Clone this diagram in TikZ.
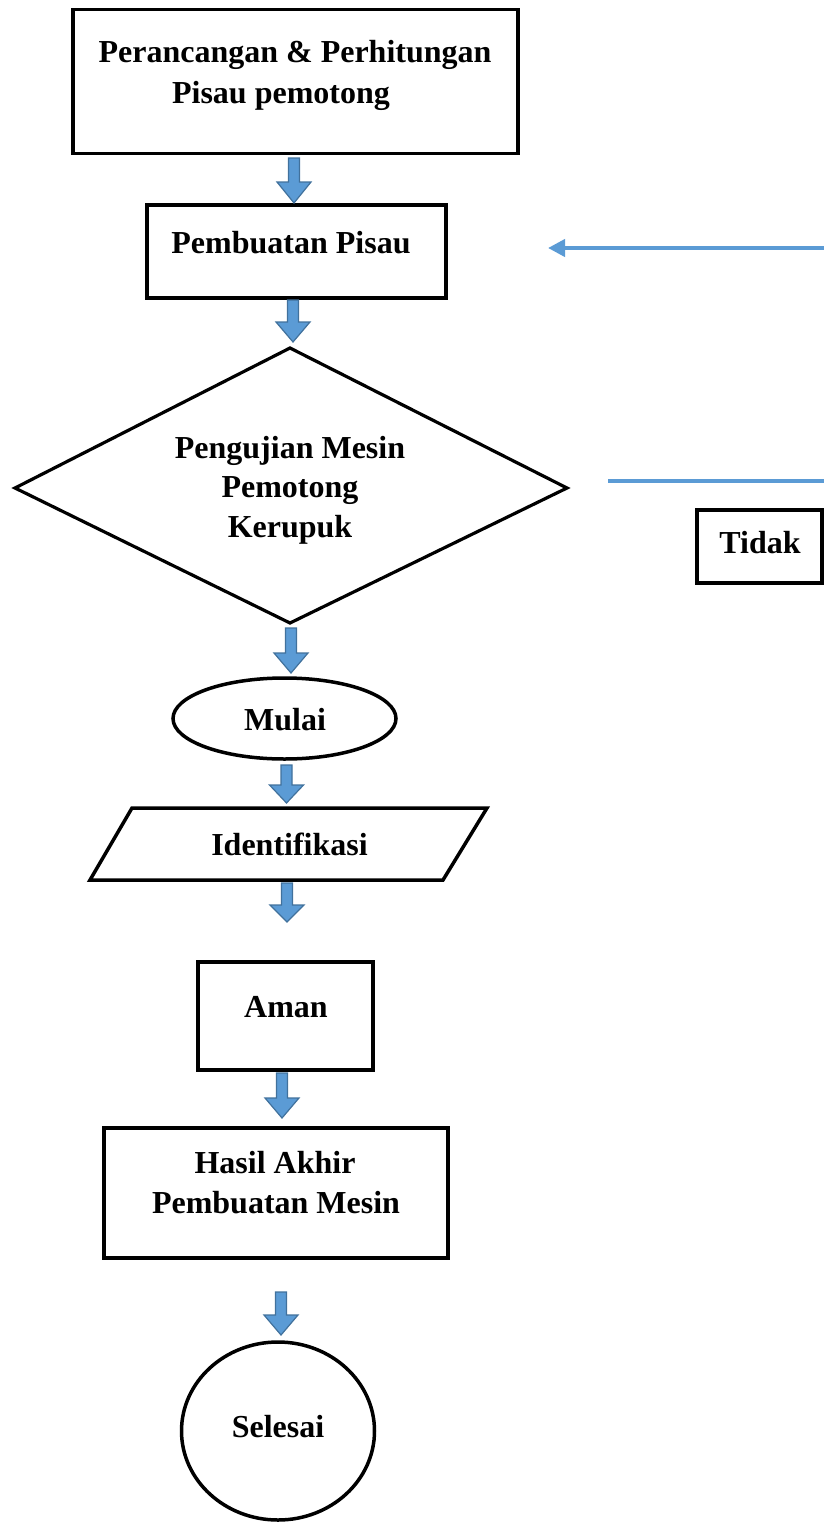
\documentclass[tikz,border=0pt]{standalone}
\usepackage{fontspec}
\setmainfont{Liberation Serif}
\usetikzlibrary{shapes.geometric,arrows.meta}
\definecolor{offblue}{HTML}{5B9BD5}
\definecolor{offblueline}{HTML}{41719C}
\newcommand\blockarrow[4]{% x, ytop, yhead, ytip
  \filldraw[barrow] (#1-5.5,#2) -- (#1+5.5,#2) -- (#1+5.5,#3) -- (#1+17,#3) -- (#1,#4) -- (#1-17,#3) -- (#1-5.5,#3) -- cycle;}
\tikzset{
  shapebox/.style={draw=black, line width=3.5pt, rectangle, inner sep=0pt},
  txt/.style={font=\fontsize{32}{41}\selectfont\bfseries, anchor=base, inner sep=0pt},
  barrow/.style={fill=offblue, draw=offblueline, line width=1.2pt, line join=miter},
  bline/.style={draw=offblue, line width=4pt}
}
\begin{document}
\begin{tikzpicture}[x=1pt,y=-1pt]
\useasboundingbox (0,0) rectangle (824,1523);
% shapes
\node[shapebox, minimum width=445pt, minimum height=144pt] (b1) at (295.5,81.5) {};
\node[shapebox, minimum width=299pt, minimum height=93pt] (b2) at (296.5,251.5) {};
\draw[line width=3.2pt, line join=miter] (15,488) -- (290,348) -- (567,488) -- (290,623) -- cycle;
\coordinate (d) at (290,488);
\node[draw, line width=3.5pt, ellipse, minimum width=223pt, minimum height=81pt, inner sep=0pt] (mulai) at (284.5,718.5) {};
\draw[line width=3.5pt, line join=miter] (132,808) -- (487,808) -- (443,880) -- (90,880) -- cycle;
\coordinate (par) at (288.5,844);
\node[shapebox, minimum width=175pt, minimum height=108pt] (aman) at (285.5,1016) {};
\node[shapebox, minimum width=344pt, minimum height=130pt] (hasil) at (276,1193) {};
\node[draw, line width=3.5pt, ellipse, minimum width=193pt, minimum height=178pt, inner sep=0pt] (selesai) at (278,1431) {};
\node[shapebox, minimum width=125pt, minimum height=73pt] (tidak) at (759.5,546.5) {};
% texts
\node[txt] (t1a) at (295,62) {Perancangan \& Perhitungan};
\node[txt] (t1b) at (281,103) {Pisau pemotong};
\node[txt] (t2) at (291,253) {Pembuatan Pisau};
\node[txt] (t3a) at (290,458) {Pengujian Mesin};
\node[txt] (t3b) at (290,497) {Pemotong};
\node[txt] (t3c) at (290,537) {Kerupuk};
\node[txt] (t4) at (285,730) {Mulai};
\node[txt] (t5) at (289.5,855) {Identifikasi};
\node[txt] (t6) at (286,1017) {Aman};
\node[txt] (t7a) at (275,1173) {Hasil Akhir};
\node[txt] (t7b) at (276,1213) {Pembuatan Mesin};
\node[txt] (t8) at (278,1437) {Selesai};
\node[txt] (t9) at (760,553) {Tidak};
% block arrows
\blockarrow{294}{158}{182}{203}
\blockarrow{293}{300}{322}{342}
\blockarrow{291}{628}{653}{673}
\blockarrow{286.5}{765}{785}{803}
\blockarrow{287}{883}{905}{922}
\blockarrow{282}{1073}{1098}{1118}
\blockarrow{281}{1292}{1315}{1335}
% right side lines
\coordinate (r1) at (824,248);
\coordinate (r1e) at (548,248);
\draw[bline, -{Triangle[width=17pt,length=17pt]}] (r1) -- (r1e);
\coordinate (r2a) at (608,481);
\coordinate (r2b) at (824,481);
\draw[bline] (r2a) -- (r2b);
\end{tikzpicture}
\end{document}
